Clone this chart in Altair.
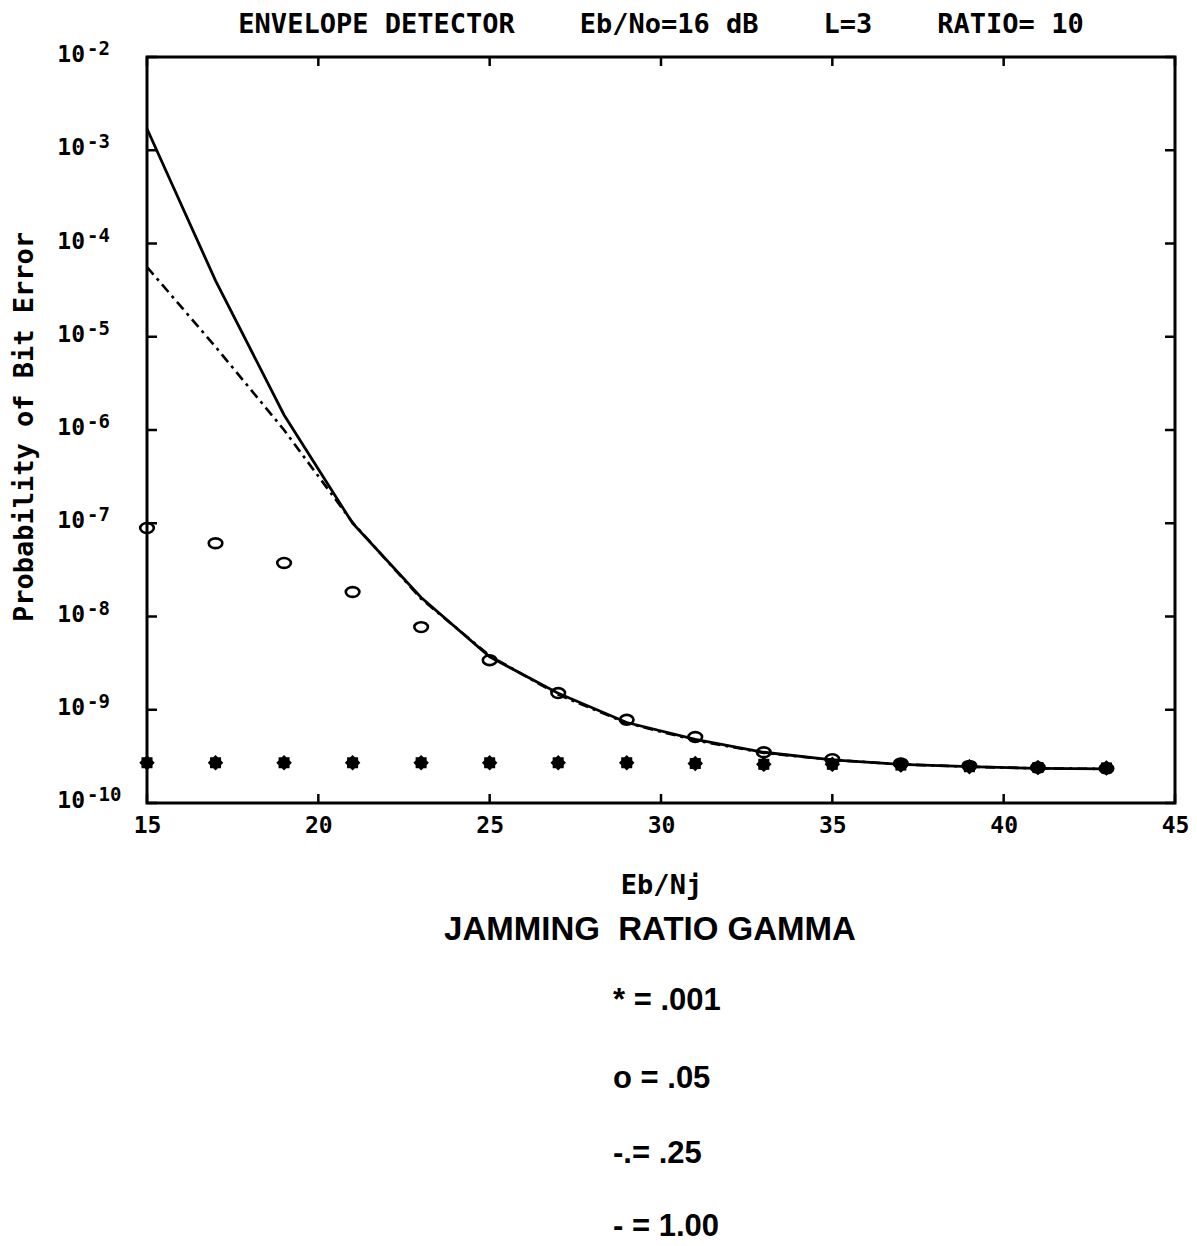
import math
import altair as alt
import pandas as pd

# ---------------- data ----------------
eb_nj = [15, 17, 19, 21, 23, 25, 27, 29, 31, 33, 35, 37, 39, 41, 43]

# gamma = .001  (stars)
pe_gamma_001 = [2.7e-10, 2.7e-10, 2.7e-10, 2.7e-10, 2.7e-10, 2.7e-10, 2.7e-10, 2.7e-10,
                2.65e-10, 2.6e-10, 2.6e-10, 2.55e-10, 2.45e-10, 2.4e-10, 2.38e-10]
# gamma = .05  (open circles)
pe_gamma_05 = [8.9e-8, 6.1e-8, 3.75e-8, 1.83e-8, 7.7e-9, 3.4e-9, 1.51e-9, 7.8e-10,
               5.1e-10, 3.5e-10, 2.95e-10, 2.65e-10, 2.5e-10, 2.4e-10, 2.35e-10]
# gamma = .25  (dash-dot line)
pe_gamma_25 = [5.6e-5, 7.8e-6, 1.0e-6, 1.02e-7, 1.55e-8, 3.8e-9, 1.45e-9, 7.2e-10,
               4.7e-10, 3.45e-10, 2.9e-10, 2.6e-10, 2.45e-10, 2.35e-10, 2.32e-10]
# gamma = 1.00  (solid line)
pe_gamma_100 = [1.7e-3, 4.0e-5, 1.45e-6, 1.0e-7, 1.6e-8, 3.7e-9, 1.5e-9, 7.3e-10,
                4.8e-10, 3.5e-10, 2.9e-10, 2.6e-10, 2.45e-10, 2.35e-10, 2.32e-10]

x_ticks = [15, 20, 25, 30, 35, 40, 45]
y_ticks = [1e-2, 1e-3, 1e-4, 1e-5, 1e-6, 1e-7, 1e-8, 1e-9, 1e-10]
y_tick_base = ["10"] * 9
y_tick_exponents = ["-2", "-3", "-4", "-5", "-6", "-7", "-8", "-9", "-10"]

NB = "\u00a0"
title_text = f"ENVELOPE DETECTOR{NB*4}Eb/No=16 dB{NB*4}L=3{NB*4}RATIO= 10"
x_title = "Eb/Nj"
y_title = "Probability of Bit Error"
legend_heading = f"JAMMING{NB*2}RATIO GAMMA"
legend_lines = ["* = .001", "o = .05", "-.= .25", "- = 1.00"]

# ---------------- styling ----------------
W, H = 1028, 746
MONO = "DejaVu Sans Mono"
SANS = "Liberation Sans"

series = pd.DataFrame({
    "x": eb_nj,
    "g001": pe_gamma_001,
    "g05": pe_gamma_05,
    "g25": pe_gamma_25,
    "g100": pe_gamma_100,
})
xt = pd.DataFrame({"x": x_ticks})
yt = pd.DataFrame({"pe": y_ticks, "base": y_tick_base, "exp": y_tick_exponents})

xscale = alt.Scale(domain=[15, 45], nice=False, zero=False)
yscale = alt.Scale(type="log", domain=[1e-10, 1e-2], nice=False)

x_axis = alt.Axis(values=x_ticks, ticks=False, domain=False, grid=False,
                  labelFont=MONO, labelFontSize=23, labelFontWeight="bold",
                  labelColor="black", labelPadding=11, labelFlush=False,
                  title=x_title, titleFont=MONO, titleFontSize=27,
                  titleFontWeight="bold", titleColor="black", titlePadding=35)


def xe(field):
    return alt.X(f"{field}:Q", scale=xscale, axis=x_axis)


def ye(field):
    return alt.Y(f"{field}:Q", scale=yscale, axis=None)


# tick marks pointing inward
xt_top = alt.Chart(xt).mark_rule(color="black", strokeWidth=2.5).encode(
    x=xe("x"), y=alt.value(0), y2=alt.value(9))
xt_bot = alt.Chart(xt).mark_rule(color="black", strokeWidth=2.5).encode(
    x=xe("x"), y=alt.value(H - 9), y2=alt.value(H))
yt_left = alt.Chart(yt).mark_rule(color="black", strokeWidth=2.5).encode(
    y=ye("pe"), x=alt.value(0), x2=alt.value(10))
yt_right = alt.Chart(yt).mark_rule(color="black", strokeWidth=2.5).encode(
    y=ye("pe"), x=alt.value(W - 10), x2=alt.value(W))

# y tick labels 10^n
ylab_base = alt.Chart(yt).mark_text(font=MONO, fontSize=23, fontWeight="bold",
                                    align="right", baseline="middle", dy=-2,
                                    color="black").encode(
    y=ye("pe"), x=alt.value(-62), text="base:N")
ylab_exp = alt.Chart(yt).mark_text(font=MONO, fontSize=19, fontWeight="bold",
                                   align="left", baseline="middle", dy=-8,
                                   color="black").encode(
    y=ye("pe"), x=alt.value(-60), text="exp:N")

ytitle = alt.Chart(pd.DataFrame({"t": [y_title]})).mark_text(
    font=MONO, fontSize=27, fontWeight="bold", angle=270, align="center",
    baseline="middle", color="black").encode(
    x=alt.value(-122), y=alt.value(370), text="t:N")

# curves
line_100 = alt.Chart(series).mark_line(color="black", strokeWidth=2.8).encode(
    x=xe("x"), y=ye("g100"))
line_25 = alt.Chart(series).mark_line(color="black", strokeWidth=2.6,
                                      strokeDash=[10, 5, 3, 5]).encode(
    x=xe("x"), y=ye("g25"))

ellipse = "M -1,0 A 1,0.72 0 1,1 1,0 A 1,0.72 0 1,1 -1,0 Z"
pts_05 = alt.Chart(series).mark_point(shape=ellipse, filled=False, color="black",
                                      size=185, strokeWidth=2.6, opacity=1).encode(
    x=xe("x"), y=ye("g05"))

star_pts = []
for i in range(16):
    r = 1.0 if i % 2 == 0 else 0.78
    a = i * math.pi / 8
    star_pts.append(f"{r * math.cos(a):.3f},{r * math.sin(a):.3f}")
star = "M " + " L ".join(star_pts) + " Z"
pts_001 = alt.Chart(series).mark_point(shape=star, filled=True, color="black",
                                       size=240, opacity=1).encode(
    x=xe("x"), y=ye("g001"))

# legend text below the plot
heading = alt.Chart(pd.DataFrame({"t": [legend_heading]})).mark_text(
    font=SANS, fontSize=33, fontWeight="bold", align="center", baseline="middle",
    color="black").encode(x=alt.value(503), y=alt.value(873), text="t:N")

leg_y = [944, 1022, 1097, 1170]
leg_layers = []
for txt, yy in zip(legend_lines, leg_y):
    leg_layers.append(
        alt.Chart(pd.DataFrame({"t": [txt]})).mark_text(
            font=SANS, fontSize=31, fontWeight="bold", align="left",
            baseline="middle", color="black").encode(
            x=alt.value(466), y=alt.value(yy), text="t:N"))

chart = alt.layer(
    line_100, line_25, pts_05, pts_001,
    xt_top, xt_bot, yt_left, yt_right,
    ylab_base, ylab_exp, ytitle, heading, *leg_layers,
).properties(
    width=W, height=H,
    title=alt.TitleParams(text=title_text, font=MONO, fontSize=27,
                          fontWeight="bold", color="black", anchor="middle",
                          frame="group", offset=1),
    autosize=alt.AutoSizeParams(type="none"),
    padding={"left": 139, "top": 49, "right": 14, "bottom": 443},
    background="white",
).configure_view(
    stroke="black", strokeWidth=3, fill="white"
)

chart.save("out.html", embed_options={"renderer": "svg", "actions": False})
